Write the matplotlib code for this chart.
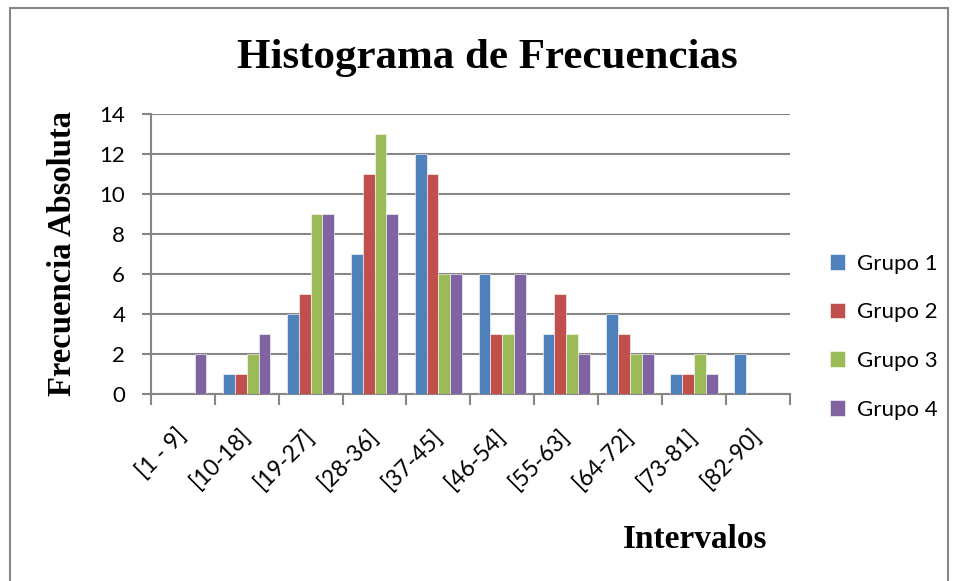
import matplotlib
matplotlib.use("Agg")
import matplotlib.pyplot as plt
import numpy as np
from matplotlib.patches import Rectangle
from matplotlib.transforms import ScaledTranslation

# datos
intervalos = ["[1 - 9]", "[10-18]", "[19-27]", "[28-36]", "[37-45]",
              "[46-54]", "[55-63]", "[64-72]", "[73-81]", "[82-90]"]
grupo1 = [0, 1, 4, 7, 12, 6, 3, 4, 1, 2]
grupo2 = [0, 1, 5, 11, 11, 3, 5, 3, 1, 0]
grupo3 = [0, 2, 9, 13, 6, 3, 3, 2, 2, 0]
grupo4 = [2, 3, 9, 9, 6, 6, 2, 2, 1, 0]
nombres = ["Grupo 1", "Grupo 2", "Grupo 3", "Grupo 4"]
colores = ["#4F81BD", "#C0504D", "#9BBB59", "#8064A2"]
y_ticks = [0, 2, 4, 6, 8, 10, 12, 14]

serif = "Liberation Serif"
sans = "Lato"
gris = "#868686"

fig = plt.figure(figsize=(9.55, 5.81), dpi=100)
ax = fig.add_axes([0.158, 0.322, 0.669, 0.482])

x = np.arange(len(intervalos))
ancho = 0.185
series = [grupo1, grupo2, grupo3, grupo4]
for i, (vals, nom, col) in enumerate(zip(series, nombres, colores)):
    ax.bar(x + (i - 1.5) * ancho, vals, width=ancho, color=col, label=nom,
           edgecolor="white", linewidth=0.4, zorder=3)

ax.set_xlim(-0.5, len(intervalos) - 0.5)
ax.set_ylim(0, 14)
ax.set_yticks(y_ticks)
ax.set_yticklabels([str(v) for v in y_ticks], fontsize=16, family=sans)
ax.yaxis.grid(True, color=gris, linewidth=1.5, zorder=0)
ax.set_axisbelow(True)

# ticks del eje x en los limites de cada intervalo
ax.set_xticks(np.arange(-0.5, len(intervalos), 1.0))
ax.set_xticklabels([])
ax.set_xticks(x, minor=True)
ax.set_xticklabels(intervalos, minor=True, rotation=45, ha="right", va="top",
                   rotation_mode="anchor", fontsize=16.5, family=sans)
ax.tick_params(axis="x", which="major", length=8, width=1.5, color=gris, direction="out")
ax.tick_params(axis="x", which="minor", length=0, pad=22)
ax.tick_params(axis="y", length=6.5, width=1.5, color=gris, pad=12)
desplaza = ScaledTranslation(-7 / 100, 0, fig.dpi_scale_trans)
for lab in ax.get_xticklabels(minor=True):
    lab.set_transform(lab.get_transform() + desplaza)

for s in ["top", "right"]:
    ax.spines[s].set_visible(False)
for s in ["left", "bottom"]:
    ax.spines[s].set_color(gris)
    ax.spines[s].set_linewidth(1.5)

fig.text(0.51, 0.90, "Histograma de Frecuencias", ha="center", va="center",
         fontsize=31, fontweight="bold", family=serif)
fig.text(0.065, 0.563, "Frecuencia Absoluta", ha="center", va="center",
         rotation=90, fontsize=23.5, fontweight="bold", family=serif)
fig.text(0.728, 0.071, "Intervalos", ha="center", va="center",
         fontsize=24, fontweight="bold", family=serif)

leg = fig.legend(loc="upper left", bbox_to_anchor=(0.848, 0.598), frameon=False,
                 prop={"family": sans, "size": 16}, handlelength=0.7, handleheight=0.7,
                 labelspacing=1.29, handletextpad=0.5)

# borde del grafico
fig.patches.append(Rectangle((10 / 955, -0.01), 938 / 955, 1 - 8 / 581 + 0.01,
                             transform=fig.transFigure, fill=False,
                             edgecolor=gris, linewidth=1.5))

fig.savefig("out.png", dpi=100)
